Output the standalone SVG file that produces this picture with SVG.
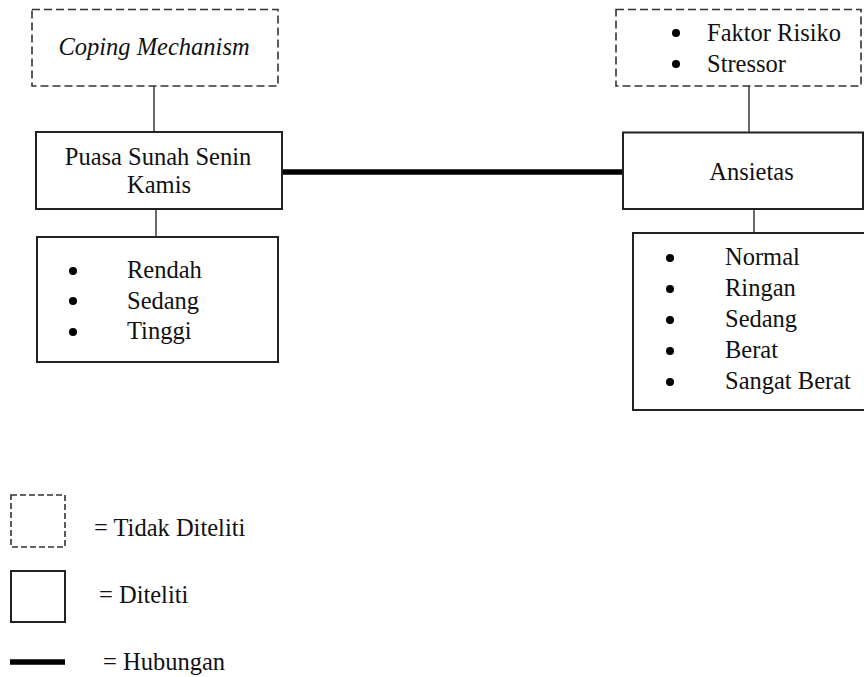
<svg xmlns="http://www.w3.org/2000/svg" width="864" height="677" viewBox="0 0 864 677">
<style>
text{font-family:'Liberation Serif','Times New Roman',Times,'DejaVu Serif',serif;font-size:24.5px;fill:#111}
.dash{fill:none;stroke:#333;stroke-width:1.6;stroke-dasharray:8 4}
.dashs{fill:none;stroke:#333;stroke-width:1.6;stroke-dasharray:6 3}
.solid{fill:none;stroke:#222;stroke-width:2}
.conn{stroke:#444;stroke-width:1.6;fill:none}
.thick{stroke:#000;stroke-width:5.5;fill:none}
.c{text-anchor:middle}
.b{fill:#000}
</style>
<rect width="864" height="677" fill="#fff"/>
<g id="connectors">
<line class="conn" x1="154" y1="86" x2="154" y2="132"/>
<line class="conn" x1="156" y1="209" x2="156" y2="237"/>
<line class="conn" x1="749" y1="86" x2="749" y2="132"/>
<line class="conn" x1="754" y1="209" x2="754" y2="233"/>
<line class="thick" x1="282" y1="172" x2="623" y2="172"/>
</g>
<g font-family="Liberation Serif, Times New Roman, serif">
<g id="coping">
<rect class="dash" x="32" y="9.5" width="246" height="76.5"/>
<text class="c" x="154" y="55" font-style="italic">Coping Mechanism</text>
</g>
<g id="faktor">
<rect class="dash" x="616" y="9.5" width="245" height="76.5"/>
<circle class="b" cx="676" cy="33" r="4"/>
<text x="707" y="41">Faktor Risiko</text>
<circle class="b" cx="676" cy="64" r="4"/>
<text x="707" y="72">Stressor</text>
</g>
<g id="puasa">
<rect class="solid" x="36" y="132" width="246" height="77"/>
<text class="c" x="158" y="165">Puasa Sunah Senin</text>
<text class="c" x="159" y="193">Kamis</text>
</g>
<g id="ansietas">
<rect class="solid" x="623" y="132.5" width="240" height="76.5"/>
<text class="c" x="751.5" y="180">Ansietas</text>
</g>
<g id="tingkat-puasa">
<rect class="solid" x="37" y="237" width="241" height="125"/>
<circle class="b" cx="73" cy="271" r="4"/>
<text x="127" y="278">Rendah</text>
<circle class="b" cx="73" cy="301" r="4"/>
<text x="127" y="309">Sedang</text>
<circle class="b" cx="73" cy="332" r="4"/>
<text x="127" y="339">Tinggi</text>
</g>
<g id="tingkat-ansietas">
<path class="solid" d="M870 233 H633 V410 H870"/>
<circle class="b" cx="670" cy="258" r="4"/>
<text x="725" y="265">Normal</text>
<circle class="b" cx="670" cy="289" r="4"/>
<text x="725" y="296">Ringan</text>
<circle class="b" cx="670" cy="320" r="4"/>
<text x="725" y="327">Sedang</text>
<circle class="b" cx="670" cy="351" r="4"/>
<text x="725" y="358">Berat</text>
<circle class="b" cx="670" cy="382" r="4"/>
<text x="725" y="389">Sangat Berat</text>
</g>
<g id="legend">
<rect class="dashs" x="11" y="495" width="54" height="52"/>
<text x="94" y="536">= Tidak Diteliti</text>
<rect class="solid" x="11" y="571" width="54" height="51"/>
<text x="99" y="603">= Diteliti</text>
<line class="thick" x1="10" y1="662" x2="65" y2="662"/>
<text x="103" y="670">= Hubungan</text>
</g>
</g>
</svg>
